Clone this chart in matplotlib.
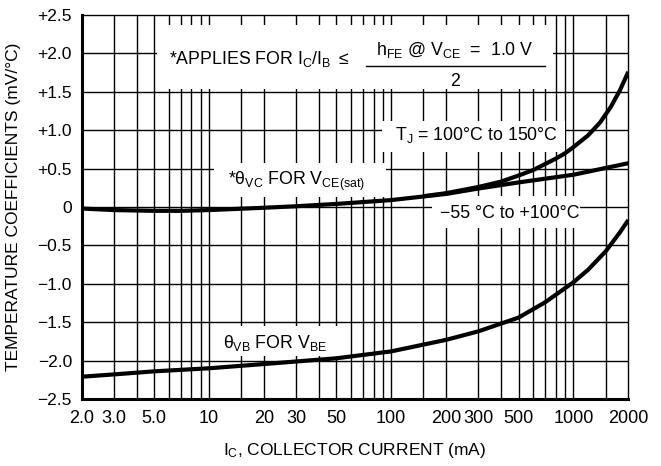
import matplotlib
matplotlib.use("Agg")
import matplotlib.pyplot as plt

plt.rcParams["font.family"] = ["Liberation Sans", "DejaVu Sans"]
plt.rcParams["mathtext.fontset"] = "custom"
plt.rcParams["mathtext.rm"] = "Liberation Sans"
plt.rcParams["mathtext.it"] = "Liberation Sans"

# collector current (mA) and temperature coefficients (mV/°C)
vb_ic = [2, 3, 5, 10, 20, 50, 100, 200, 300, 500, 700, 1000, 1200, 1500, 1800, 2000]
vb_coef = [-2.21, -2.18, -2.14, -2.10, -2.045, -1.97, -1.88, -1.73, -1.62,
           -1.44, -1.24, -0.98, -0.82, -0.58, -0.33, -0.17]

vc_low_ic = [2, 3, 5, 7, 10, 20, 30, 50, 100, 200, 300, 500, 1000, 2000]
vc_low_coef = [-0.02, -0.04, -0.05, -0.05, -0.04, -0.01, 0.01, 0.04, 0.09,
               0.17, 0.24, 0.32, 0.42, 0.57]

vc_high_ic = [150, 200, 300, 400, 500, 600, 700, 800, 900, 1000, 1200, 1400,
              1600, 1800, 2000]
vc_high_coef = [0.14, 0.18, 0.26, 0.33, 0.41, 0.48, 0.56, 0.63, 0.70, 0.78,
                0.93, 1.10, 1.30, 1.52, 1.76]

x_ticks = [2, 3, 5, 10, 20, 30, 50, 100, 200, 300, 500, 1000, 2000]
x_tick_labels = ["2.0", "3.0", "5.0", "10", "20", "30", "50", "100", "200",
                 "300", "500", "1000", "2000"]
x_grid = [3, 4, 5, 6, 7, 8, 9, 10, 15, 20, 30, 40, 50, 60, 70, 80, 90, 100,
          150, 200, 300, 400, 500, 600, 700, 800, 900, 1000, 1500]
y_ticks = [2.5, 2.0, 1.5, 1.0, 0.5, 0, -0.5, -1.0, -1.5, -2.0, -2.5]
y_tick_labels = ["+2.5", "+2.0", "+1.5", "+1.0", "+0.5", "0", "\u22120.5",
                 "\u22121.0", "\u22121.5", "\u22122.0", "\u22122.5"]

fig = plt.figure(figsize=(6.61, 4.66), dpi=100)
ax = fig.add_axes([0.1236, 0.1438, 0.9505 - 0.1236, 0.9678 - 0.1438])
ax.set_xscale("log")
ax.set_xlim(2, 2000)
ax.set_ylim(-2.5, 2.5)

# grid
for gx in x_grid:
    ax.axvline(gx, color="black", lw=1.0, zorder=1)
for gy in y_ticks[1:-1]:
    ax.axhline(gy, color="black", lw=1.0, zorder=1)


def blank(x0, x1, y0, y1):
    """White patch that hides the grid behind a label."""
    ax.fill([x0, x1, x1, x0], [y0, y0, y1, y1], color="white", lw=0, zorder=2)


blank(5.2, 770, 1.53, 2.37)      # applies-for note
blank(10.6, 94, 0.13, 0.57)      # theta VC label
blank(89, 900, 0.72, 1.12)       # TJ 100..150
blank(167, 1080, -0.27, 0.14)    # -55..100
blank(10.8, 52, -1.94, -1.55)    # theta VB label

for xs, ys in ((vb_ic, vb_coef), (vc_low_ic, vc_low_coef), (vc_high_ic, vc_high_coef)):
    ax.plot(xs, ys, color="black", lw=3.0, solid_capstyle="butt",
            solid_joinstyle="round", zorder=3)

# axes frame
for side in ("left", "bottom"):
    ax.spines[side].set_linewidth(2.2)
for side in ("top", "right"):
    ax.spines[side].set_linewidth(1.0)
for sp in ax.spines.values():
    sp.set_zorder(5)

ax.set_xticks(x_ticks)
ax.set_xticklabels(x_tick_labels)
ax.xaxis.set_minor_locator(matplotlib.ticker.NullLocator())
ax.set_yticks(y_ticks)
ax.set_yticklabels(y_tick_labels)
ax.tick_params(axis="both", length=0)
ax.tick_params(axis="x", pad=8, labelsize=13)
ax.tick_params(axis="y", pad=7, labelsize=12.5)

fs = 12.8
ax.text(6.0, 1.93, r"*APPLIES FOR I$_\mathrm{C}$/I$_\mathrm{B}$ $\leq$",
        fontsize=fs, ha="left", va="center", zorder=4)
ax.text(224, 2.04, r"h$_\mathrm{FE}$ @ V$_\mathrm{CE}$  =  1.0 V",
        fontsize=fs, ha="center", va="center", zorder=4)
ax.plot([73, 700], [1.836, 1.836], color="black", lw=1.0, zorder=4)
ax.text(224, 1.63, "2", fontsize=fs, ha="center", va="center", zorder=4)

ax.text(12.7, 0.33, r"*$\theta_\mathrm{VC}$ FOR V$_\mathrm{CE(sat)}$",
        fontsize=fs, ha="left", va="center", zorder=4)
ax.text(105, 0.94, r"T$_\mathrm{J}$ = 100°C to 150°C",
        fontsize=fs, ha="left", va="center", zorder=4)
ax.text(185, -0.08, "\u221255 °C to +100°C",
        fontsize=fs, ha="left", va="center", zorder=4)
ax.text(11.9, -1.77, r"$\theta_\mathrm{VB}$ FOR V$_\mathrm{BE}$",
        fontsize=fs, ha="left", va="center", zorder=4)

fig.text(355 / 661, 1 - 450 / 466, r"I$_\mathrm{C}$, COLLECTOR CURRENT (mA)",
         fontsize=12.5, ha="center", va="center")
fig.text(14 / 661, 1 - 207 / 466, "TEMPERATURE COEFFICIENTS (mV/°C)",
         fontsize=12.5, ha="center", va="center", rotation=90)

fig.savefig("out.png", dpi=100)
